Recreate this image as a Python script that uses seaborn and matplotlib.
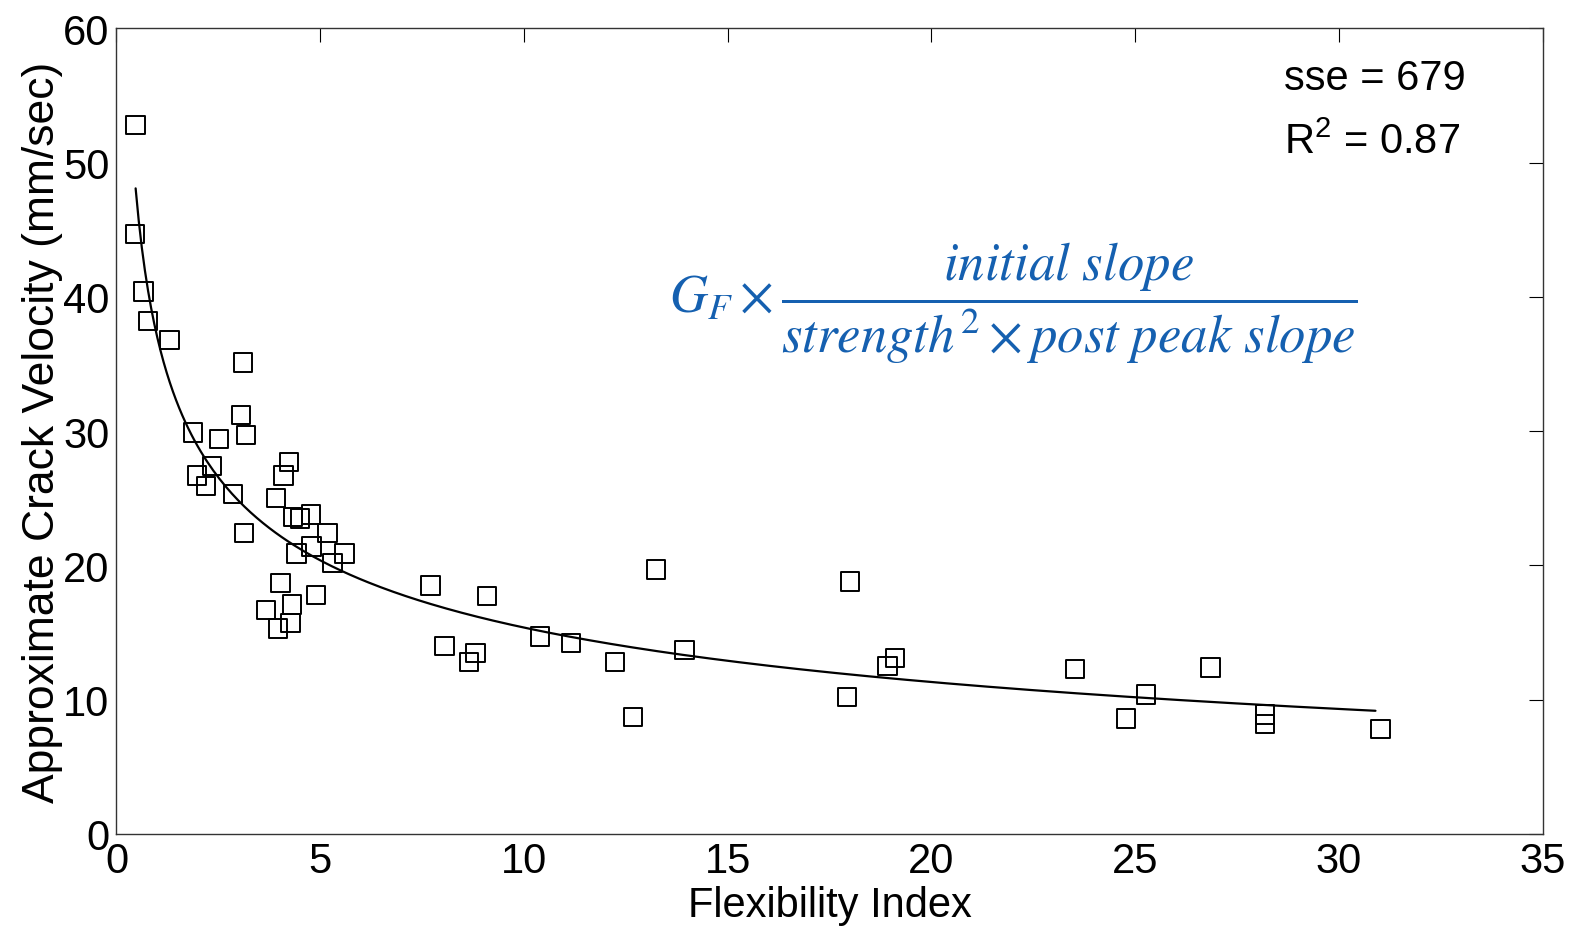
import numpy as np
import pandas as pd
import matplotlib
matplotlib.use("Agg")
import matplotlib.pyplot as plt
import seaborn as sns

# ---- data ----
flex_index = [0.47, 0.45, 0.66, 0.77, 1.30, 3.11,
              3.05, 1.88, 2.51, 3.18, 2.35, 1.97, 2.19, 2.86, 3.13,
              4.24, 4.10, 3.91, 4.34, 4.50, 4.77, 5.18, 4.79, 4.42,
              5.60, 5.30, 4.03, 4.89, 4.31, 3.67, 4.27, 3.96,
              7.71, 9.10, 8.05, 8.81, 8.65, 10.39, 11.15, 12.23, 12.68, 13.24,
              13.94, 18.01, 17.93, 18.92, 19.11,
              23.53, 24.78, 25.27, 26.85, 28.19, 28.19, 31.02]
crack_velocity = [52.8, 44.7, 40.4, 38.2, 36.8, 35.1,
                  31.2, 29.9, 29.4, 29.7, 27.4, 26.7, 25.9, 25.3, 22.4,
                  27.7, 26.7, 25.0, 23.6, 23.5, 23.8, 22.4, 21.4, 20.9,
                  20.9, 20.2, 18.7, 17.8, 17.1, 16.7, 15.7, 15.3,
                  18.5, 17.7, 14.0, 13.5, 12.8, 14.7, 14.2, 12.8, 8.7, 19.7,
                  13.7, 18.8, 10.2, 12.5, 13.1,
                  12.3, 8.6, 10.4, 12.4, 8.9, 8.2, 7.8]

# power fit y = a * x^b + c
fit_a, fit_b, fit_c = 43.0, -0.3036, -6.0
fit_range = (0.47, 30.9)

x_ticks = [0, 5, 10, 15, 20, 25, 30, 35]
y_ticks = [0, 10, 20, 30, 40, 50, 60]
stats_text = ["sse = 679", "R$^{2}$ = 0.87"]

df = pd.DataFrame({"FI": flex_index, "V": crack_velocity})
xf = np.linspace(fit_range[0], fit_range[1], 400)
fit_df = pd.DataFrame({"FI": xf, "V": fit_a * xf ** fit_b + fit_c})

sns.set_theme(style="white")
plt.rcParams["font.family"] = ["Liberation Sans", "DejaVu Sans"]
plt.rcParams["text.color"] = "black"
plt.rcParams["axes.labelcolor"] = "black"
plt.rcParams["mathtext.fontset"] = "custom"
plt.rcParams["mathtext.rm"] = "Liberation Sans"
plt.rcParams["mathtext.it"] = "Liberation Sans:italic"

fig = plt.figure(figsize=(15.74, 9.29), dpi=100)
ax = fig.add_axes([0.074, 0.1012, 0.906, 0.8673])

sns.lineplot(data=fit_df, x="FI", y="V", ax=ax, color="black", linewidth=1.6)
sns.scatterplot(data=df, x="FI", y="V", ax=ax, marker="s", s=175,
                facecolor="none", edgecolor="black", linewidth=1.4, zorder=3)

ax.set_xlim(0, 35)
ax.set_ylim(0, 60)
ax.set_xticks(x_ticks)
ax.set_yticks(y_ticks)
ax.tick_params(direction="in", length=10, width=0.8, top=True, right=True,
               labelsize=30, pad=5, colors="black")
for sp in ax.spines.values():
    sp.set_color("#333333")
    sp.set_linewidth(1.0)
ax.set_xlabel("Flexibility Index", fontsize=30, labelpad=3)
ax.set_ylabel("Approximate Crack Velocity (mm/sec)", fontsize=32, labelpad=0)

ax.text(28.66, 55.5, stats_text[0], fontsize=30, va="baseline", ha="left")
ax.text(28.66, 50.7, stats_text[1], fontsize=30, va="baseline", ha="left")

ax.text(22.0, 39.6,
        r"$G_F \times \dfrac{initial\ slope}{strength^2 \times post\ peak\ slope}$",
        fontsize=38, color="#1560B0", ha="center", va="center",
        math_fontfamily="stix")

fig.savefig("out.png", dpi=100)
